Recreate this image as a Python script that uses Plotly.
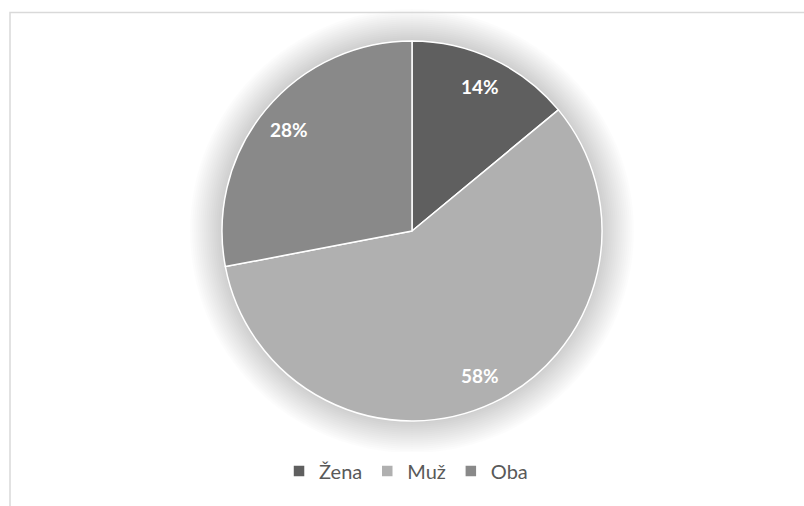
import math
import plotly.graph_objects as go

# Data
labels = ["Žena", "Muž", "Oba"]
values = [14, 58, 28]
colors = ["#5f5f5f", "#b0b0b0", "#898989"]

W, H = 804, 506
cx, cy, R = 412, 231, 190  # pie centre and radius in pixels

fig = go.Figure()
fig.add_trace(go.Pie(
    labels=labels,
    values=values,
    sort=False,
    direction="clockwise",
    rotation=0,
    textinfo="none",
    hoverinfo="label+percent",
    marker=dict(colors=colors, line=dict(color="white", width=1.5)),
    domain=dict(x=[(cx - R) / W, (cx + R) / W], y=[(H - cy - R) / H, (H - cy + R) / H]),
))

# Percentage labels placed at the middle angle of each slice
total = sum(values)
annotations = []
cum = 0
for v in values:
    mid = (cum + v / 2) / total * 2 * math.pi
    cum += v
    r = 0.84 * R
    px = cx + r * math.sin(mid)
    py = cy - r * math.cos(mid)
    annotations.append(dict(
        x=px / W, y=1 - py / H, xref="paper", yref="paper",
        xanchor="center", yanchor="middle",
        text=f"<b>{round(v / total * 100)}%</b>", showarrow=False,
        font=dict(family="Lato", size=19, color="white"),
    ))

# Soft glow behind the pie
shapes = []
n = 16
for i in range(n):
    rr = R + 2 * (n - i)
    shapes.append(dict(
        type="circle", xref="paper", yref="paper", layer="below",
        x0=(cx - rr) / W, x1=(cx + rr) / W,
        y0=1 - (cy + rr) / H, y1=1 - (cy - rr) / H,
        fillcolor="rgba(0,0,0,0.01)", line=dict(width=0),
    ))

# Chart frame
shapes.append(dict(
    type="rect", xref="paper", yref="paper", layer="below",
    x0=10 / W, x1=1.01, y0=-0.01, y1=1 - 12.5 / H,
    line=dict(color="#d9d9d9", width=1.5), fillcolor="rgba(0,0,0,0)",
))

fig.update_layout(
    width=W, height=H,
    margin=dict(l=0, r=0, t=0, b=0),
    paper_bgcolor="white",
    plot_bgcolor="white",
    showlegend=True,
    legend=dict(
        orientation="h", x=0.505, xanchor="center", y=1 - 471 / H, yanchor="middle",
        font=dict(family="Lato", size=20, color="#595959"),
        itemwidth=30,
    ),
    annotations=annotations,
    shapes=shapes,
)

fig.write_html("out.html")
